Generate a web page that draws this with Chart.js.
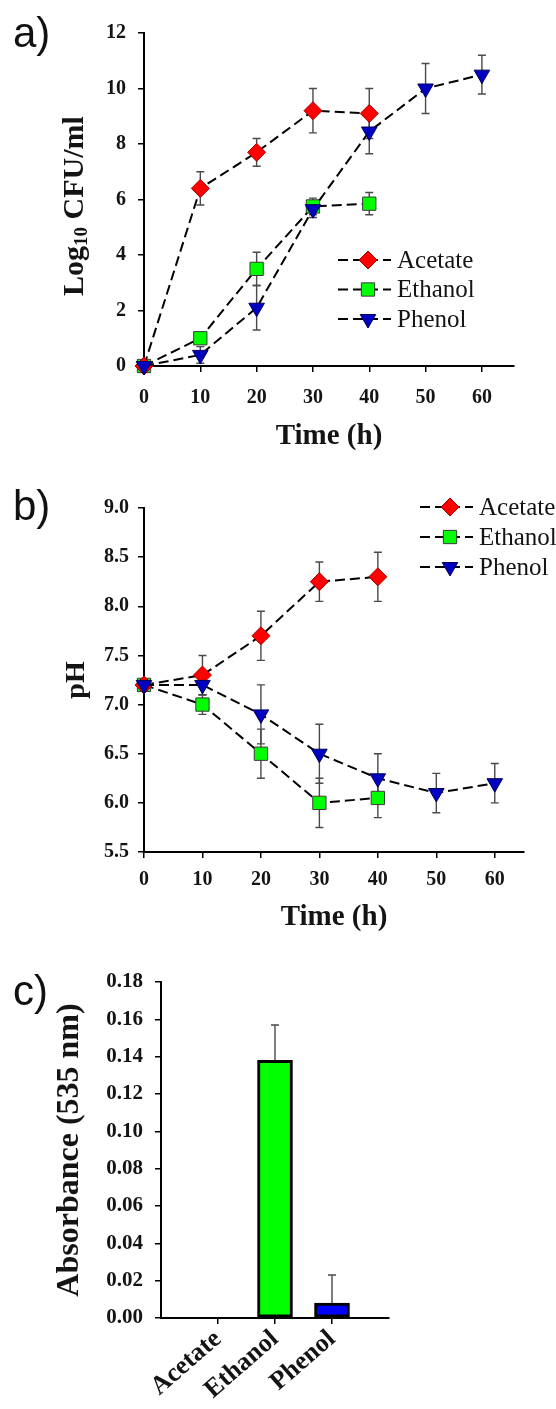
<!DOCTYPE html>
<html>
<head>
<meta charset="utf-8">
<title>Growth, pH and absorbance</title>
<script src="https://cdn.jsdelivr.net/npm/chart.js@4.4.1/dist/chart.umd.min.js"></script>
<style>
  body { margin: 0; background: #fff; }
  #page { position: relative; width: 556px; height: 1409px; overflow: hidden; }
  canvas { position: absolute; left: 0; }
  .tag { position: absolute; left: 13px; font: 42px/42px "Liberation Sans", Arial, sans-serif; color: #111; }
</style>
</head>
<body>
<div id="page">
  <canvas id="growth-chart" width="556" height="460" style="top:0"></canvas>
  <canvas id="ph-chart" width="556" height="480" style="top:460px"></canvas>
  <canvas id="abs-chart" width="556" height="469" style="top:940px"></canvas>
  <div class="tag" style="top:12px">a)</div>
  <div class="tag" style="top:485px">b)</div>
  <div class="tag" style="top:970px">c)</div>
</div>
<script>
const hours = [0, 10, 20, 30, 40, 50, 60];
const seriesNames = ['Acetate', 'Ethanol', 'Phenol'];

// a) growth, log10 CFU/ml
const cfuAcetate = [0, 6.4, 7.7, 9.2, 9.1];
const cfuAcetateErr = [0, 0.6, 0.5, 0.8, 0.9];
const cfuEthanol = [0, 1.0, 3.5, 5.75, 5.85];
const cfuEthanolErr = [0, 0.2, 0.6, 0.3, 0.4];
const cfuPhenol = [0, 0.4, 2.1, 5.65, 8.45, 10.0, 10.5];
const cfuPhenolErr = [0, 0.3, 0.8, 0.3, 0.8, 0.9, 0.7];

// b) pH
const phAcetate = [7.2, 7.3, 7.7, 8.25, 8.3];
const phAcetateErr = [0, 0.2, 0.25, 0.2, 0.25];
const phEthanol = [7.2, 7.0, 6.5, 6.0, 6.05];
const phEthanolErr = [0, 0.1, 0.25, 0.25, 0.2];
const phPhenol = [7.2, 7.2, 6.9, 6.5, 6.25, 6.1, 6.2];
const phPhenolErr = [0, 0.1, 0.3, 0.3, 0.25, 0.2, 0.2];

// c) absorbance at 535 nm
const absorbance = [0, 0.138, 0.008];
const absorbanceErr = [0, 0.019, 0.015];
const barColors = ['#ff0000', '#00ff00', '#0000ff'];

const serif = '"Liberation Serif", "Times New Roman", serif';
const ink = '#141414';

const markers = {
  Acetate: { pointStyle: 'rectRot', pointRadius: 9, pointRotation: 0, pointBackgroundColor: '#ff0000', pointBorderColor: '#a00000', order: 1 },
  Ethanol: { pointStyle: 'rect', pointRadius: 9.4, pointRotation: 0, pointBackgroundColor: '#00ff00', pointBorderColor: '#3a3a3a', order: 2 },
  Phenol: { pointStyle: 'triangle', pointRadius: 9, pointRotation: 180, pointBackgroundColor: '#0000c0', pointBorderColor: '#00005a', order: 0 }
};

function lineSet(label, ys, errs) {
  return Object.assign({
    label: label,
    data: ys.map((y, i) => ({ x: hours[i], y: y })),
    errors: errs,
    borderColor: '#000',
    borderWidth: 2,
    borderDash: [10, 5],
    tension: 0,
    fill: false,
    clip: false,
    pointBorderWidth: 1
  }, markers[label]);
}

// error bars go under the lines and markers
const errorBars = {
  id: 'errorBars',
  beforeDatasetsDraw(chart) {
    const ctx = chart.ctx;
    const yScale = chart.scales.y;
    ctx.save();
    ctx.strokeStyle = '#4a4a4a';
    ctx.lineWidth = 1.4;
    chart.data.datasets.forEach((ds, i) => {
      if (!ds.errors) return;
      chart.getDatasetMeta(i).data.forEach((el, j) => {
        const raw = ds.data[j];
        const v = raw !== null && typeof raw === 'object' ? raw.y : raw;
        const e = ds.errors[j];
        if (v == null || !e) return;
        const top = yScale.getPixelForValue(v + e);
        const bottom = yScale.getPixelForValue(ds.upOnly ? v : v - e);
        ctx.beginPath();
        ctx.moveTo(el.x, top);
        ctx.lineTo(el.x, bottom);
        ctx.moveTo(el.x - 4, top);
        ctx.lineTo(el.x + 4, top);
        if (!ds.upOnly) {
          ctx.moveTo(el.x - 4, bottom);
          ctx.lineTo(el.x + 4, bottom);
        }
        ctx.stroke();
      });
    });
    ctx.restore();
  }
};

// legend as "- marker -  Name", like the spreadsheet one
const lineLegend = {
  id: 'lineLegend',
  afterDraw(chart, args, opts) {
    const ctx = chart.ctx;
    chart.data.datasets.forEach((ds, i) => {
      const y = opts.y + i * opts.gap;
      ctx.save();
      ctx.strokeStyle = '#000';
      ctx.lineWidth = 2;
      ctx.setLineDash([10, 5]);
      ctx.beginPath();
      ctx.moveTo(opts.x, y);
      ctx.lineTo(opts.x + 53, y);
      ctx.stroke();
      ctx.setLineDash([]);
      ctx.fillStyle = ds.pointBackgroundColor;
      ctx.strokeStyle = ds.pointBorderColor;
      ctx.lineWidth = 1;
      Chart.helpers.drawPoint(ctx, {
        pointStyle: ds.pointStyle, radius: ds.pointRadius, rotation: ds.pointRotation, borderWidth: 1
      }, opts.x + 30, y);
      ctx.fillStyle = ink;
      ctx.font = '25px ' + serif;
      ctx.textBaseline = 'middle';
      ctx.fillText(ds.label, opts.x + 59, y + 1);
      ctx.restore();
    });
  }
};

// y title with a real subscript: Log10 CFU/ml
const logTitle = {
  id: 'logTitle',
  afterDraw(chart) {
    const ctx = chart.ctx;
    const parts = [['Log', 30, 0], ['10', 19, 7], [' CFU/ml', 30, 0]];
    ctx.save();
    ctx.translate(73, 206);
    ctx.rotate(-Math.PI / 2);
    ctx.fillStyle = ink;
    ctx.textBaseline = 'middle';
    let total = 0;
    parts.forEach(p => { ctx.font = 'bold ' + p[1] + 'px ' + serif; total += ctx.measureText(p[0]).width; });
    let x = -total / 2;
    parts.forEach(p => {
      ctx.font = 'bold ' + p[1] + 'px ' + serif;
      ctx.fillText(p[0], x, p[2] + 2);
      x += ctx.measureText(p[0]).width;
    });
    ctx.restore();
  }
};

function tickFont(size) {
  return { family: serif, size: size, weight: 'bold' };
}

const axisGrid = { drawOnChartArea: false, offset: false, tickLength: 6, color: '#000', lineWidth: 1.5 };
const axisBorder = { color: '#000', width: 2 };

function timeAxis(max, height, tickPad, titlePad) {
  return {
    type: 'linear',
    min: 0,
    max: max,
    afterBuildTicks: s => { s.ticks = hours.map(v => ({ value: v })); },
    afterFit: s => { s.height = height; },
    ticks: { color: ink, padding: tickPad, font: tickFont(20) },
    grid: axisGrid,
    border: axisBorder,
    title: {
      display: true, text: 'Time (h)', color: ink,
      padding: { top: 0, bottom: titlePad },
      font: { family: serif, size: 29, weight: 'bold' }
    }
  };
}

const common = {
  responsive: false,
  animation: false,
  events: [],
  devicePixelRatio: 1
};

new Chart(document.getElementById('growth-chart'), {
  type: 'line',
  data: {
    datasets: [
      lineSet('Acetate', cfuAcetate, cfuAcetateErr),
      lineSet('Ethanol', cfuEthanol, cfuEthanolErr),
      lineSet('Phenol', cfuPhenol, cfuPhenolErr)
    ]
  },
  options: Object.assign({}, common, {
    layout: { padding: { top: 33, right: 42, left: 0, bottom: 0 } },
    plugins: {
      legend: { display: false },
      tooltip: { enabled: false },
      lineLegend: { x: 338, y: 260, gap: 29.5 }
    },
    scales: {
      x: timeAxis(65.7, 94, 14, 6),
      y: {
        min: 0, max: 12,
        afterFit: s => { s.width = 144; },
        ticks: { stepSize: 2, color: ink, padding: 12, font: tickFont(20) },
        grid: axisGrid,
        border: axisBorder
      }
    }
  }),
  plugins: [errorBars, lineLegend, logTitle]
});

new Chart(document.getElementById('ph-chart'), {
  type: 'line',
  data: {
    datasets: [
      lineSet('Acetate', phAcetate, phAcetateErr),
      lineSet('Ethanol', phEthanol, phEthanolErr),
      lineSet('Phenol', phPhenol, phPhenolErr)
    ]
  },
  options: Object.assign({}, common, {
    layout: { padding: { top: 48, right: 32, left: 0, bottom: 0 } },
    plugins: {
      legend: { display: false },
      tooltip: { enabled: false },
      lineLegend: { x: 420, y: 47, gap: 30 }
    },
    scales: {
      x: timeAxis(65, 88, 10, 5),
      y: {
        min: 5.5, max: 9.0,
        afterFit: s => { s.width = 144; },
        ticks: { stepSize: 0.5, color: ink, padding: 9, font: tickFont(20), callback: v => v.toFixed(1) },
        grid: axisGrid,
        border: axisBorder,
        title: {
          display: true, text: 'pH', color: ink,
          padding: { top: 60, bottom: 0 },
          font: { family: serif, size: 28, weight: 'bold' }
        }
      }
    }
  }),
  plugins: [errorBars, lineLegend]
});

const barLabels = [''].concat(seriesNames, ['']);

new Chart(document.getElementById('abs-chart'), {
  type: 'bar',
  data: {
    labels: barLabels,
    datasets: [{
      data: [null].concat(absorbance, [null]),
      errors: [null].concat(absorbanceErr, [null]),
      upOnly: true,
      backgroundColor: [null].concat(barColors, [null]),
      borderColor: '#000',
      borderWidth: 3,
      borderSkipped: false,
      barThickness: 35
    }]
  },
  options: Object.assign({}, common, {
    layout: { padding: { top: 42, right: 167, left: 0, bottom: 0 } },
    plugins: { legend: { display: false }, tooltip: { enabled: false } },
    scales: {
      x: {
        offset: false,
        afterBuildTicks: s => { s.ticks = s.ticks.filter(t => barLabels[t.value] !== ''); },
        afterFit: s => { s.height = 91; },
        ticks: { color: ink, padding: 0, autoSkip: false, minRotation: 41, maxRotation: 41, font: tickFont(26) },
        grid: axisGrid,
        border: axisBorder
      },
      y: {
        min: 0, max: 0.18,
        afterFit: s => { s.width = 161; },
        ticks: { stepSize: 0.02, color: ink, padding: 12, font: tickFont(21), callback: v => v.toFixed(2) },
        grid: axisGrid,
        border: axisBorder,
        title: {
          display: true, text: 'Absorbance (535 nm)', color: ink,
          padding: { top: 51, bottom: 0 },
          font: { family: serif, size: 32, weight: 'bold' }
        }
      }
    }
  }),
  plugins: [errorBars]
});
</script>
</body>
</html>
